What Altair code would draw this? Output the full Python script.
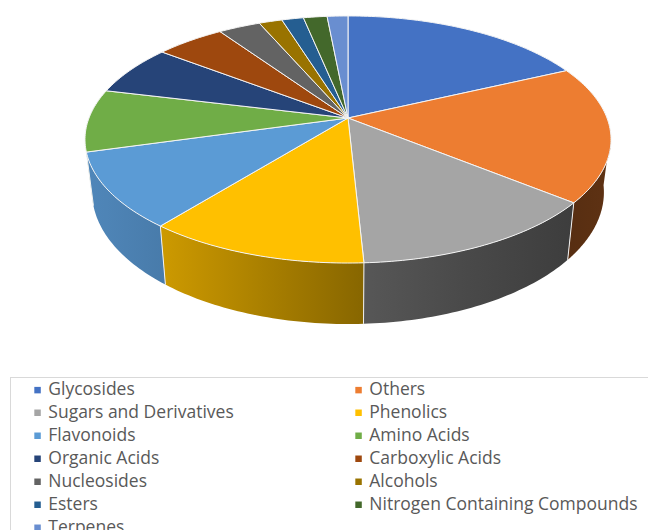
import math
import altair as alt

# Share of compounds per class, percent, clockwise from twelve o'clock
categories = ["Glycosides", "Others", "Sugars and Derivatives", "Phenolics", "Flavonoids",
              "Amino Acids", "Organic Acids", "Carboxylic Acids", "Nucleosides", "Alcohols",
              "Esters", "Nitrogen Containing Compounds", "Terpenes"]
shares = [18.03, 17.83, 13.33, 11.58, 9.86, 8.17, 6.61, 5.03, 3.06, 1.69, 1.58, 1.72, 1.51]
colors = ["#4472C4", "#ED7D31", "#A5A5A5", "#FFC000", "#5B9BD5", "#70AD47", "#264478",
          "#9E480E", "#636363", "#997300", "#255E91", "#43682B", "#698ED0"]

# Perspective view of the disc
CX, CY = 348.0, 118.0
RX, RY, TILT = 259.0, 119.8, 0.174

# Brightness of the rim, by horizontal screen position
SHADE_X = [93, 165, 365, 568, 611]
SHADE_K = [0.87, 0.80, 0.53, 0.37, 0.40]

# Stretch of the turn where the rim faces the viewer
RIM_FROM, RIM_TO = 97.0, 255.0


def top_point(deg):
    a = math.radians(deg)
    u, v = math.sin(a), math.cos(a)
    w = 1 + TILT * v
    return CX + RX * u / w, CY - RY * v / w


def bottom_point(deg):
    x, y = top_point(deg)
    return CX + 0.973 * (x - CX), y + 61 + 0.067 * (y - 263)


def shade(hex_color, x):
    k = SHADE_K[-1]
    if x <= SHADE_X[0]:
        k = SHADE_K[0]
    for i in range(len(SHADE_X) - 1):
        if SHADE_X[i] <= x <= SHADE_X[i + 1]:
            t = (x - SHADE_X[i]) / (SHADE_X[i + 1] - SHADE_X[i])
            k = SHADE_K[i] + t * (SHADE_K[i + 1] - SHADE_K[i])
    rgb = [int(hex_color[j:j + 2], 16) for j in (1, 3, 5)]
    return "#%02x%02x%02x" % tuple(int(c * k) for c in rgb)


def feature(kind, coords, **props):
    return {"type": "Feature", "properties": props,
            "geometry": {"type": kind, "coordinates": coords}}


projection = alt.Projection(type="identity", scale=1, translate=[0, 0]).to_dict()

top_faces, rim_edges, rim_layers = [], [], []
start = 0.0
for name, share, col in zip(categories, shares, colors):
    sweep = share * 3.6
    steps = max(2, int(sweep))
    angles = [start + sweep * i / steps for i in range(steps + 1)]
    ring = [[CX, CY]] + [list(top_point(a)) for a in angles] + [[CX, CY]]
    top_faces.append(feature("Polygon", [ring], name=name))

    lo, hi = max(start, RIM_FROM), min(start + sweep, RIM_TO)
    if hi > lo:
        span = [lo + (hi - lo) * i / steps for i in range(steps + 1)]
        upper = [list(top_point(a)) for a in span]
        lower = [list(bottom_point(a)) for a in reversed(span)]
        outline = upper + lower + [upper[0]]
        xs = [p[0] for p in outline]
        x_min, x_max = min(xs), max(xs)
        stops = [
            alt.GradientStop(offset=i / 4, color=shade(col, x_min + (x_max - x_min) * i / 4))
            for i in range(5)
        ]
        rim_layers.append(
            alt.Chart(alt.Data(values=[feature("Polygon", [outline], name=name)]))
            .mark_geoshape(
                fill=alt.Gradient(gradient="linear", stops=stops, x1=0, x2=1, y1=0, y2=0),
                strokeWidth=0,
            )
            .project(**projection)
        )
        rim_edges.append(feature("LineString", [list(top_point(lo)), list(bottom_point(lo))]))
    start += sweep

edges = alt.Chart(alt.Data(values=rim_edges[1:])).mark_geoshape(
    filled=False, stroke="#f2f2f2", strokeWidth=1).project(**projection)

faces = alt.Chart(alt.Data(values=top_faces)).mark_geoshape(
    stroke="#f4f4f4", strokeWidth=1, strokeJoin="round").encode(
    color=alt.Color(
        "properties.name:N",
        scale=alt.Scale(domain=categories, range=colors),
        sort=categories,
        legend=alt.Legend(
            title=None, orient="none", legendX=28.8, legendY=381, direction="horizontal",
            columns=2, symbolType="square", symbolSize=42, symbolStrokeWidth=0,
            labelFont="Open Sans", labelFontSize=17.5, labelColor="#595959", labelLimit=320,
            labelOffset=2, rowPadding=4, columnPadding=116, padding=0,
        ),
    )
).project(**projection)

frame_top = alt.Chart(alt.Data(values=[{"a": 0}])).mark_rule(color="#d9d9d9").encode(
    x=alt.value(10), x2=alt.value(648), y=alt.value(377.5))
frame_left = alt.Chart(alt.Data(values=[{"a": 0}])).mark_rule(color="#d9d9d9").encode(
    x=alt.value(10.5), y=alt.value(377), y2=alt.value(530))

chart = alt.layer(frame_top, frame_left, *rim_layers, edges, faces).properties(
    width=648, height=530, padding=0,
    autosize=alt.AutoSizeParams(type="none"), background="white",
).configure_view(stroke=None)

chart.save("out.html", embed_options={"renderer": "svg", "actions": False})
